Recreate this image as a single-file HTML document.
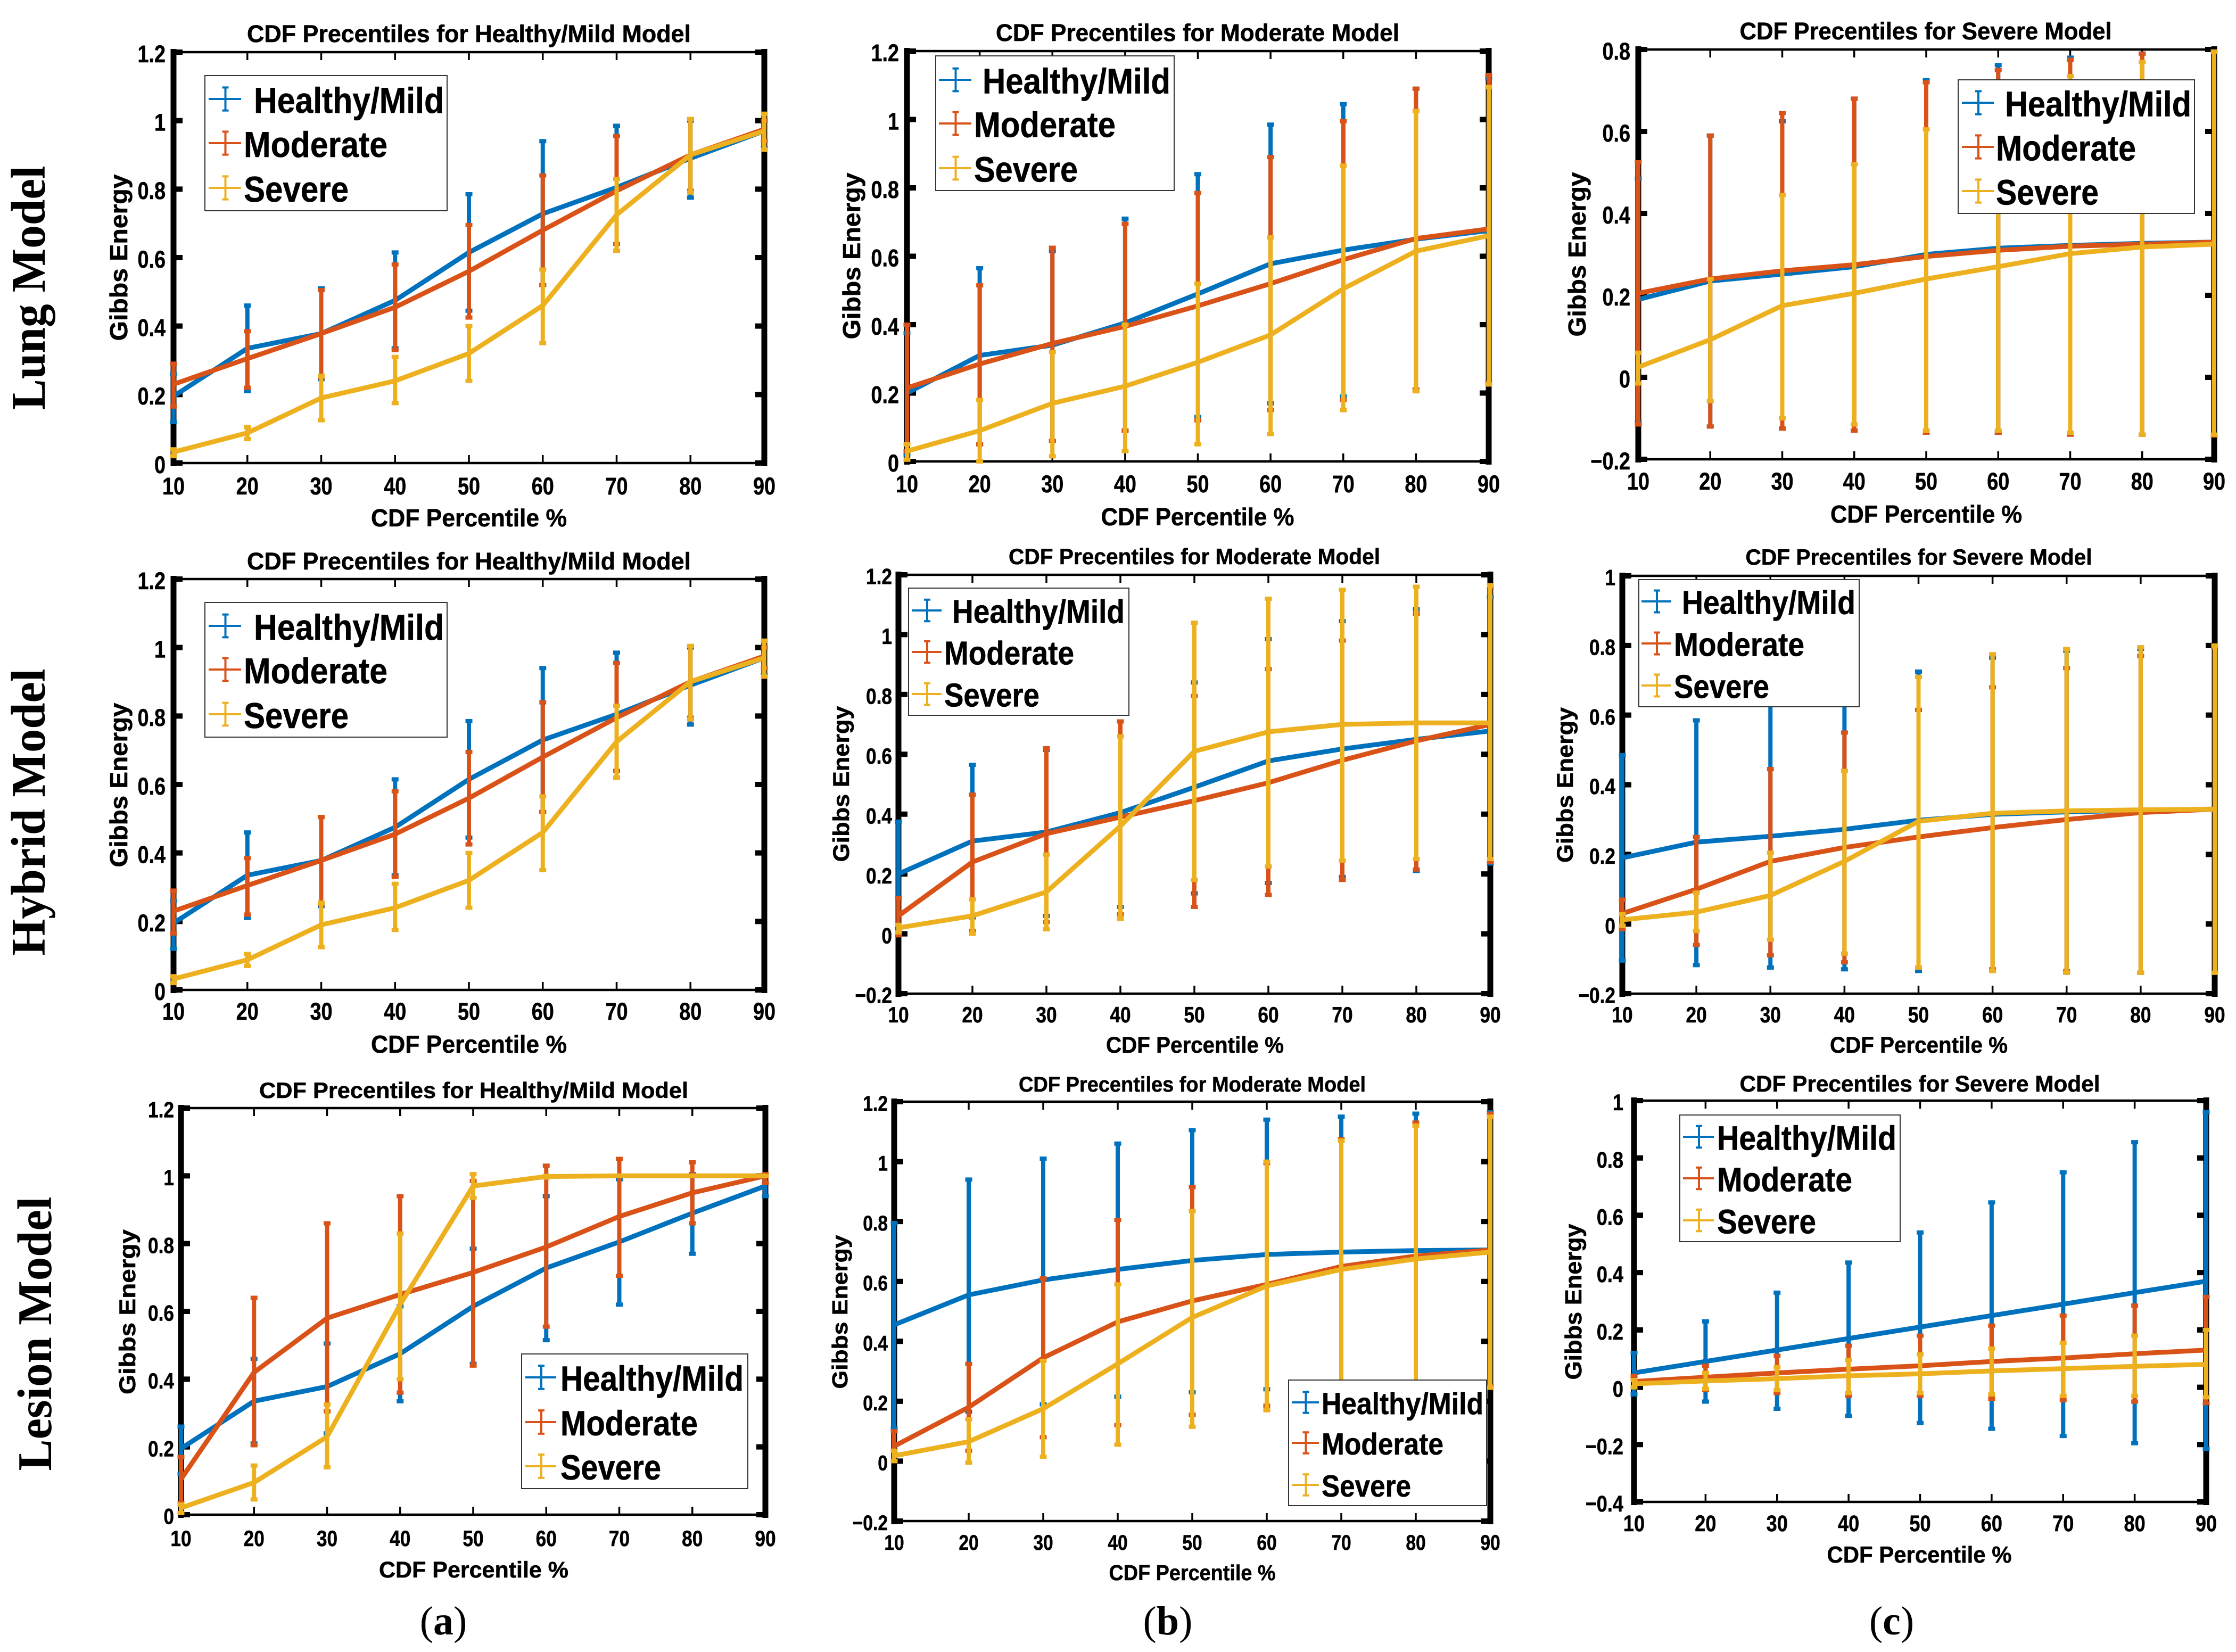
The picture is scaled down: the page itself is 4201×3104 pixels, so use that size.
<!DOCTYPE html>
<html lang="en">
<head>
<meta charset="utf-8">
<title>CDF Percentiles for Lung, Hybrid and Lesion Models</title>
<style>
  html,body{margin:0;padding:0;background:#fff;}
  svg{display:block;}
  text{font-family:"Liberation Sans",sans-serif;font-weight:700;fill:#000;stroke:#000;stroke-width:0.6px;}
  .serif{font-family:"Liberation Serif",serif;stroke-width:0;}
</style>
</head>
<body>
<svg id="chart" xmlns="http://www.w3.org/2000/svg" width="4201" height="3104" viewBox="0 0 4201 3104">
  <rect x="0" y="0" width="4201" height="3104" fill="#fff"/>
  <text class="serif" transform="translate(84,541) rotate(-90)" text-anchor="middle" font-size="91" textLength="459" lengthAdjust="spacingAndGlyphs">Lung Model</text>
  <text class="serif" transform="translate(84,1526) rotate(-90)" text-anchor="middle" font-size="91" textLength="539" lengthAdjust="spacingAndGlyphs">Hybrid Model</text>
  <text class="serif" transform="translate(96,2506) rotate(-90)" text-anchor="middle" font-size="91" textLength="515" lengthAdjust="spacingAndGlyphs">Lesion Model</text>
  <text class="serif" x="833" y="3071" text-anchor="middle" font-size="76" font-weight="400" style="font-weight:400">(<tspan style="font-weight:700">a</tspan>)</text>
  <text class="serif" x="2194" y="3071" text-anchor="middle" font-size="76" style="font-weight:400">(<tspan style="font-weight:700">b</tspan>)</text>
  <text class="serif" x="3554" y="3071" text-anchor="middle" font-size="76" style="font-weight:400">(<tspan style="font-weight:700">c</tspan>)</text>
</svg>
<script>
// ---------- shared categories and axis ticks ----------
const categories = [10,20,30,40,50,60,70,80,90];
const ticks0to12 = [0,0.2,0.4,0.6,0.8,1,1.2];
const ticksN2to08 = [-0.2,0,0.2,0.4,0.6,0.8];
const ticksN2to12 = [-0.2,0,0.2,0.4,0.6,0.8,1,1.2];
const ticksN2to1 = [-0.2,0,0.2,0.4,0.6,0.8,1];
const ticksN4to1 = [-0.4,-0.2,0,0.2,0.4,0.6,0.8,1];

// ---------- Lung model / Healthy-Mild ----------
const lungA_healthyMean = [0.195,0.335,0.378,0.475,0.615,0.728,0.805,0.89,0.97];
const lungA_healthyUpper = [0.26,0.46,0.51,0.615,0.785,0.94,0.985,1.0,1.02];
const lungA_healthyLower = [0.12,0.21,0.245,0.335,0.445,0.52,0.62,0.775,0.92];
const lungA_moderateMean = [0.23,0.305,0.378,0.455,0.56,0.68,0.795,0.9,0.975];
const lungA_moderateUpper = [0.29,0.385,0.505,0.58,0.695,0.84,0.955,1.005,1.0];
const lungA_moderateLower = [0.165,0.22,0.25,0.33,0.425,0.52,0.64,0.795,0.94];
const lungA_severeMean = [0.032,0.088,0.19,0.24,0.32,0.46,0.725,0.9,0.97];
const lungA_severeUpper = [0.04,0.105,0.255,0.31,0.40,0.565,0.83,1.005,1.02];
const lungA_severeLower = [0.02,0.07,0.125,0.175,0.24,0.35,0.62,0.79,0.915];

// ---------- Lung model / Moderate ----------
const lungB_healthyMean = [0.2,0.31,0.34,0.405,0.49,0.578,0.618,0.65,0.675];
const lungB_healthyUpper = [0.375,0.565,0.615,0.71,0.84,0.985,1.045,1.09,1.12];
const lungB_healthyLower = [0.02,0.05,0.06,0.09,0.13,0.17,0.19,0.21,0.23];
const lungB_moderateMean = [0.215,0.285,0.345,0.395,0.455,0.52,0.59,0.652,0.68];
const lungB_moderateUpper = [0.4,0.515,0.625,0.695,0.785,0.89,0.995,1.09,1.13];
const lungB_moderateLower = [0.03,0.05,0.06,0.09,0.12,0.15,0.18,0.21,0.23];
const lungB_severeMean = [0.03,0.09,0.17,0.22,0.29,0.37,0.505,0.615,0.66];
const lungB_severeUpper = [0.05,0.18,0.32,0.4,0.52,0.655,0.865,1.025,1.095];
const lungB_severeLower = [0.005,0.0,0.015,0.03,0.05,0.08,0.15,0.205,0.225];

// ---------- Lung model / Severe ----------
const lungC_healthyMean = [0.19,0.235,0.252,0.27,0.3,0.315,0.322,0.327,0.33];
const lungC_healthyUpper = [0.485,0.59,0.625,0.68,0.725,0.762,0.78,0.79,0.795];
const lungC_healthyLower = [-0.11,-0.12,-0.125,-0.13,-0.13,-0.135,-0.135,-0.14,-0.14];
const lungC_moderateMean = [0.205,0.24,0.26,0.275,0.295,0.31,0.32,0.325,0.33];
const lungC_moderateUpper = [0.525,0.59,0.645,0.68,0.72,0.75,0.775,0.79,0.795];
const lungC_moderateLower = [-0.115,-0.12,-0.125,-0.13,-0.135,-0.135,-0.14,-0.14,-0.142];
const lungC_severeMean = [0.025,0.092,0.175,0.205,0.24,0.27,0.302,0.318,0.325];
const lungC_severeUpper = [0.06,0.24,0.445,0.52,0.605,0.67,0.735,0.77,0.795];
const lungC_severeLower = [-0.015,-0.058,-0.1,-0.115,-0.13,-0.13,-0.135,-0.14,-0.14];

// ---------- Hybrid model / Healthy-Mild ----------
const hybridA_healthyMean = [0.195,0.335,0.378,0.475,0.615,0.73,0.805,0.89,0.97];
const hybridA_healthyUpper = [0.26,0.46,0.505,0.615,0.785,0.94,0.985,1.0,1.02];
const hybridA_healthyLower = [0.12,0.21,0.245,0.335,0.445,0.52,0.62,0.775,0.92];
const hybridA_moderateMean = [0.23,0.305,0.378,0.455,0.56,0.68,0.795,0.9,0.975];
const hybridA_moderateUpper = [0.29,0.385,0.505,0.58,0.695,0.84,0.955,1.005,1.0];
const hybridA_moderateLower = [0.165,0.22,0.25,0.33,0.425,0.52,0.64,0.795,0.94];
const hybridA_severeMean = [0.032,0.088,0.19,0.24,0.32,0.46,0.725,0.9,0.97];
const hybridA_severeUpper = [0.04,0.105,0.255,0.31,0.40,0.565,0.83,1.005,1.02];
const hybridA_severeLower = [0.02,0.07,0.125,0.175,0.24,0.35,0.62,0.79,0.915];

// ---------- Hybrid model / Moderate ----------
const hybridB_healthyMean = [0.2,0.31,0.34,0.405,0.49,0.578,0.618,0.65,0.678];
const hybridB_healthyUpper = [0.375,0.565,0.615,0.71,0.84,0.985,1.045,1.085,1.125];
const hybridB_healthyLower = [0.02,0.055,0.06,0.09,0.135,0.17,0.19,0.21,0.235];
const hybridB_moderateMean = [0.06,0.24,0.335,0.39,0.445,0.505,0.58,0.645,0.70];
const hybridB_moderateUpper = [0.12,0.465,0.62,0.71,0.795,0.885,0.98,1.07,1.16];
const hybridB_moderateLower = [-0.005,0.01,0.04,0.065,0.09,0.13,0.18,0.215,0.24];
const hybridB_severeMean = [0.02,0.06,0.14,0.36,0.61,0.675,0.70,0.705,0.705];
const hybridB_severeUpper = [0.03,0.115,0.265,0.66,1.04,1.12,1.15,1.16,1.165];
const hybridB_severeLower = [0.005,0.0,0.015,0.05,0.18,0.225,0.245,0.25,0.25];

// ---------- Hybrid model / Severe ----------
const hybridC_healthyMean = [0.19,0.235,0.252,0.272,0.298,0.315,0.322,0.327,0.33];
const hybridC_healthyUpper = [0.485,0.585,0.63,0.68,0.725,0.765,0.785,0.79,0.795];
const hybridC_healthyLower = [-0.105,-0.118,-0.125,-0.13,-0.135,-0.135,-0.14,-0.14,-0.14];
const hybridC_moderateMean = [0.03,0.1,0.18,0.22,0.25,0.277,0.3,0.32,0.33];
const hybridC_moderateUpper = [0.07,0.25,0.445,0.55,0.615,0.68,0.735,0.77,0.795];
const hybridC_moderateLower = [-0.015,-0.06,-0.09,-0.11,-0.125,-0.13,-0.135,-0.14,-0.14];
const hybridC_severeMean = [0.012,0.034,0.082,0.18,0.295,0.318,0.325,0.328,0.33];
const hybridC_severeUpper = [0.028,0.09,0.205,0.44,0.71,0.775,0.79,0.795,0.8];
const hybridC_severeLower = [-0.005,-0.02,-0.045,-0.085,-0.125,-0.135,-0.14,-0.14,-0.14];

// ---------- Lesion model / Healthy-Mild ----------
const lesionA_healthyMean = [0.195,0.335,0.378,0.475,0.615,0.728,0.805,0.89,0.97];
const lesionA_healthyUpper = [0.26,0.46,0.505,0.615,0.785,0.94,0.99,1.005,1.0];
const lesionA_healthyLower = [0.12,0.21,0.24,0.335,0.445,0.515,0.62,0.77,0.94];
const lesionA_moderateMean = [0.105,0.42,0.58,0.65,0.715,0.79,0.88,0.95,1.0];
const lesionA_moderateUpper = [0.17,0.64,0.86,0.94,0.985,1.03,1.05,1.04,1.005];
const lesionA_moderateLower = [0.035,0.205,0.305,0.36,0.44,0.555,0.705,0.86,0.98];
const lesionA_severeMean = [0.02,0.095,0.23,0.62,0.97,0.998,1.0,1.0,1.0];
const lesionA_severeUpper = [0.03,0.145,0.325,0.83,1.005,1.0,1.0,1.0,1.0];
const lesionA_severeLower = [0.005,0.045,0.14,0.40,0.935,0.995,1.0,1.0,1.0];

// ---------- Lesion model / Moderate ----------
const lesionB_healthyMean = [0.455,0.555,0.605,0.64,0.67,0.69,0.698,0.703,0.705];
const lesionB_healthyUpper = [0.795,0.94,1.01,1.06,1.105,1.14,1.15,1.16,1.165];
const lesionB_healthyLower = [0.11,0.165,0.19,0.215,0.23,0.24,0.25,0.25,0.25];
const lesionB_moderateMean = [0.05,0.18,0.345,0.465,0.535,0.59,0.65,0.685,0.705];
const lesionB_moderateUpper = [0.1,0.325,0.61,0.805,0.915,0.995,1.075,1.13,1.16];
const lesionB_moderateLower = [0.0,0.035,0.08,0.12,0.155,0.185,0.22,0.24,0.25];
const lesionB_severeMean = [0.018,0.065,0.175,0.325,0.48,0.585,0.64,0.675,0.698];
const lesionB_severeUpper = [0.035,0.14,0.335,0.59,0.835,1.0,1.07,1.12,1.15];
const lesionB_severeLower = [0.0,-0.005,0.015,0.055,0.115,0.17,0.21,0.235,0.245];

// ---------- Lesion model / Severe ----------
const lesionC_healthyMean = [0.05,0.09,0.13,0.17,0.21,0.25,0.29,0.33,0.37];
const lesionC_healthyUpper = [0.12,0.23,0.33,0.435,0.54,0.645,0.75,0.855,0.96];
const lesionC_healthyLower = [-0.025,-0.05,-0.075,-0.1,-0.125,-0.145,-0.17,-0.195,-0.215];
const lesionC_moderateMean = [0.02,0.035,0.05,0.063,0.075,0.09,0.102,0.117,0.13];
const lesionC_moderateUpper = [0.04,0.075,0.11,0.145,0.18,0.215,0.25,0.285,0.315];
const lesionC_moderateLower = [0.0,-0.01,-0.02,-0.03,-0.03,-0.04,-0.045,-0.05,-0.055];
const lesionC_severeMean = [0.012,0.022,0.03,0.04,0.047,0.057,0.065,0.073,0.08];
const lesionC_severeUpper = [0.025,0.05,0.07,0.095,0.115,0.135,0.155,0.18,0.2];
const lesionC_severeLower = [0.0,-0.005,-0.01,-0.02,-0.02,-0.025,-0.03,-0.03,-0.035];

// ---------- layout (pixels, not data) ----------
const COLORS = {healthy:'#0072BD', moderate:'#D95319', severe:'#EDB120'};
const LEGEND_NAMES = {healthy:'Healthy/Mild', moderate:'Moderate', severe:'Severe'};
const layouts = [
 {id:'lung-healthy', title:'CDF Precentiles for Healthy/Mild Model', L:326,R:1436,T:98,B:870, ticks:ticks0to12, fs:45, yGap:15, xBase:59,
  tc:881,tb:79,tw:834, xc:881,xb:989,xw:368, yx:239,yc:484,yw:313,
  lg:[385,142,840,396], rows:[186,269,353], sym:[392,453], tx:[477,458,458], tw3:[357,270,197],
  s:[lungA_healthyMean,lungA_healthyUpper,lungA_healthyLower,lungA_moderateMean,lungA_moderateUpper,lungA_moderateLower,lungA_severeMean,lungA_severeUpper,lungA_severeLower]},
 {id:'lung-moderate', title:'CDF Precentiles for Moderate Model', L:1704,R:2797,T:96,B:867, ticks:ticks0to12, fs:45, yGap:15, xBase:58,
  tc:2250,tb:77,tw:758, xc:2250,xb:987,xw:363, yx:1616,yc:481,yw:313,
  lg:[1758,105,2206,358], rows:[150,232,316], sym:[1764,1825], tx:[1846,1830,1830], tw3:[353,266,195],
  s:[lungB_healthyMean,lungB_healthyUpper,lungB_healthyLower,lungB_moderateMean,lungB_moderateUpper,lungB_moderateLower,lungB_severeMean,lungB_severeUpper,lungB_severeLower]},
 {id:'lung-severe', title:'CDF Precentiles for Severe Model', L:3078,R:4160,T:93,B:863, ticks:ticksN2to08, fs:45, yGap:15, xBase:57,
  tc:3618,tb:74,tw:699, xc:3619,xb:982,xw:360, yx:2979,yc:478,yw:309,
  lg:[3679,150,4123,401], rows:[193,276,359], sym:[3686,3746], tx:[3767,3750,3750], tw3:[350,263,193],
  s:[lungC_healthyMean,lungC_healthyUpper,lungC_healthyLower,lungC_moderateMean,lungC_moderateUpper,lungC_moderateLower,lungC_severeMean,lungC_severeUpper,lungC_severeLower]},
 {id:'hybrid-healthy', title:'CDF Precentiles for Healthy/Mild Model', L:326,R:1436,T:1088,B:1860, ticks:ticks0to12, fs:45, yGap:15, xBase:56,
  tc:881,tb:1070,tw:834, xc:881,xb:1978,xw:368, yx:239,yc:1475,yw:309,
  lg:[385,1132,840,1385], rows:[1176,1258,1342], sym:[392,453], tx:[477,458,458], tw3:[357,270,197],
  s:[hybridA_healthyMean,hybridA_healthyUpper,hybridA_healthyLower,hybridA_moderateMean,hybridA_moderateUpper,hybridA_moderateLower,hybridA_severeMean,hybridA_severeUpper,hybridA_severeLower]},
 {id:'hybrid-moderate', title:'CDF Precentiles for Moderate Model', L:1688,R:2800,T:1080,B:1867, ticks:ticksN2to12, fs:42, yGap:12, xBase:54,
  tc:2244,tb:1060,tw:698, xc:2245,xb:1978,xw:334, yx:1595,yc:1473,yw:293,
  lg:[1707,1105,2121,1344], rows:[1147,1225,1304], sym:[1713,1769], tx:[1789,1774,1774], tw3:[324,244,179],
  s:[hybridB_healthyMean,hybridB_healthyUpper,hybridB_healthyLower,hybridB_moderateMean,hybridB_moderateUpper,hybridB_moderateLower,hybridB_severeMean,hybridB_severeUpper,hybridB_severeLower]},
 {id:'hybrid-severe', title:'CDF Precentiles for Severe Model', L:3048,R:4161,T:1082,B:1867, ticks:ticksN2to1, fs:42, yGap:13, xBase:54,
  tc:3605,tb:1061,tw:651, xc:3605,xb:1978,xw:334, yx:2955,yc:1475,yw:292,
  lg:[3079,1089,3493,1328], rows:[1130,1209,1288], sym:[3084,3140], tx:[3160,3145,3145], tw3:[326,245,179],
  s:[hybridC_healthyMean,hybridC_healthyUpper,hybridC_healthyLower,hybridC_moderateMean,hybridC_moderateUpper,hybridC_moderateLower,hybridC_severeMean,hybridC_severeUpper,hybridC_severeLower]},
 {id:'lesion-healthy', title:'CDF Precentiles for Healthy/Mild Model', L:340,R:1438,T:2082,B:2846, ticks:ticks0to12, fs:42, yGap:13, xBase:59,
  tc:890,tb:2063,tw:806, xc:890,xb:2964,xw:356, yx:254,yc:2465,yw:310,
  lg:[980,2544,1405,2797], rows:[2588,2672,2755], sym:[987,1045], tx:[1053,1053,1053], tw3:[344,258,189],
  s:[lesionA_healthyMean,lesionA_healthyUpper,lesionA_healthyLower,lesionA_moderateMean,lesionA_moderateUpper,lesionA_moderateLower,lesionA_severeMean,lesionA_severeUpper,lesionA_severeLower]},
 {id:'lesion-moderate', title:'CDF Precentiles for Moderate Model', L:1680,R:2800,T:2070,B:2858, ticks:ticksN2to12, fs:40, yGap:12, xBase:54,
  tc:2240,tb:2051,tw:652, xc:2240,xb:2969,xw:313, yx:1592,yc:2465,yw:289,
  lg:[2421,2593,2793,2829], rows:[2635,2711,2790], sym:[2427,2478], tx:[2483,2483,2483], tw3:[304,229,168],
  s:[lesionB_healthyMean,lesionB_healthyUpper,lesionB_healthyLower,lesionB_moderateMean,lesionB_moderateUpper,lesionB_moderateLower,lesionB_severeMean,lesionB_severeUpper,lesionB_severeLower]},
 {id:'lesion-severe', title:'CDF Precentiles for Severe Model', L:3070,R:4145,T:2068,B:2822, ticks:ticksN4to1, fs:43, yGap:20, xBase:55,
  tc:3607,tb:2051,tw:677, xc:3606,xb:2936,xw:347, yx:2971,yc:2446,yw:293,
  lg:[3156,2095,3570,2333], rows:[2136,2214,2293], sym:[3162,3220], tx:[3226,3226,3226], tw3:[337,254,186],
  s:[lesionC_healthyMean,lesionC_healthyUpper,lesionC_healthyLower,lesionC_moderateMean,lesionC_moderateUpper,lesionC_moderateLower,lesionC_severeMean,lesionC_severeUpper,lesionC_severeLower]}
];

// ---------- rendering ----------
const svg = document.getElementById('chart');
const NS = svg.namespaceURI;
function mk(parent, tag, attrs){
  const el = document.createElementNS(NS, tag);
  for (const k in attrs) el.setAttribute(k, attrs[k]);
  parent.appendChild(el);
  return el;
}
function fmtTick(v){ return String(v).replace('-', '\u2212'); }

layouts.forEach(function(p){
  const g = mk(svg, 'g', {});
  
  

  const xMin = categories[0], xMax = categories[categories.length-1];
  const yMin = p.ticks[0], yMax = p.ticks[p.ticks.length-1];
  const xScale = function(v){ return p.L + (v-xMin)/(xMax-xMin)*(p.R-p.L); };
  const yScale = function(v){ return p.B - (v-yMin)/(yMax-yMin)*(p.B-p.T); };

  // axes box
  const box = mk(g, 'path', {d:'M'+(p.L-5.5)+' '+p.T+'H'+(p.R+5.5)+'M'+(p.L-5.5)+' '+p.B+'H'+(p.R+5.5), stroke:'#000','stroke-width':4.5, fill:'none'});
  
  
  const leftAxis = mk(g, 'line', {x1:p.L,x2:p.L,y1:p.T-6,y2:p.B+6,stroke:'#000','stroke-width':11});
  
  
  const rightAxis = mk(g, 'line', {x1:p.R,x2:p.R,y1:p.T-6,y2:p.B+6,stroke:'#000','stroke-width':11});
  
  

  // y ticks and labels
  p.ticks.forEach(function(v){
    const yy = yScale(v);
    const tk = mk(g, 'path', {d:'M'+p.L+' '+yy+'H'+(p.L+17)+'M'+p.R+' '+yy+'H'+(p.R-17), stroke:'#000','stroke-width':10, fill:'none'});
    
    
    const t = mk(g, 'text', {transform:'translate('+(p.L-p.yGap)+','+(yy+p.fs*0.35+3)+') scale(0.84,1)','text-anchor':'end','font-size':p.fs});
    t.textContent = fmtTick(v);
    
    
  });

  // x ticks and labels
  categories.forEach(function(c){
    const xx = xScale(c);
    const tk = mk(g, 'path', {d:'M'+xx+' '+p.T+'V'+(p.T+15)+'M'+xx+' '+p.B+'V'+(p.B-15), stroke:'#000','stroke-width':3.5, fill:'none'});
    
    
    const t = mk(g, 'text', {transform:'translate('+xx+','+(p.B+p.xBase)+') scale(0.84,1)','text-anchor':'middle','font-size':p.fs});
    t.textContent = String(c);
    
    
  });

  // titles
  const title = mk(g, 'text', {x:p.tc,y:p.tb,'text-anchor':'middle','font-size':p.fs,textLength:p.tw,lengthAdjust:'spacingAndGlyphs'});
  title.textContent = p.title;
  
  
  const xTitle = mk(g, 'text', {x:p.xc,y:p.xb,'text-anchor':'middle','font-size':p.fs+1,textLength:p.xw,lengthAdjust:'spacingAndGlyphs'});
  xTitle.textContent = 'CDF Percentile %';
  
  
  const yTitle = mk(g, 'text', {transform:'translate('+p.yx+','+p.yc+') rotate(-90)','text-anchor':'middle','font-size':p.fs+1,textLength:p.yw,lengthAdjust:'spacingAndGlyphs'});
  yTitle.textContent = 'Gibbs Energy';
  
  

  // series: error bars then mean line, in draw order
  ['healthy','moderate','severe'].forEach(function(key, si){
    const mean = p.s[si*3], upper = p.s[si*3+1], lower = p.s[si*3+2];
    const color = COLORS[key];
    const sg = mk(g, 'g', {});
    
    
    categories.forEach(function(c, i){
      const xx = xScale(c), yu = yScale(upper[i]), yl = yScale(lower[i]);
      const eb = mk(sg, 'path', {d:'M'+xx+' '+yu+'V'+yl, stroke:color,'stroke-width':8, fill:'none'});
      
      
      const caps = mk(sg, 'path', {d:'M'+(xx-6.5)+' '+yu+'H'+(xx+6.5)+'M'+(xx-6.5)+' '+yl+'H'+(xx+6.5), stroke:color,'stroke-width':8, fill:'none'});
      
      
    });
    const pts = categories.map(function(c, i){ return xScale(c).toFixed(1)+','+yScale(mean[i]).toFixed(1); }).join(' ');
    const line = mk(sg, 'polyline', {points:pts, fill:'none', stroke:color,'stroke-width':9,'stroke-linejoin':'round'});
    
    
  });

  // legend
  const lgGroup = mk(g, 'g', {});
  
  
  const lgBox = mk(lgGroup, 'rect', {x:p.lg[0],y:p.lg[1],width:p.lg[2]-p.lg[0],height:p.lg[3]-p.lg[1],fill:'#fff',stroke:'#333','stroke-width':2});
  
  
  const lgFont = 68 * p.tw3[0] / 357;
  const half = (p.rows[1]-p.rows[0]) * 0.26;
  const symC = (p.sym[0]+p.sym[1])/2 + 1;
  ['healthy','moderate','severe'].forEach(function(key, i){
    const ry = p.rows[i], color = COLORS[key];
    const sym = mk(lgGroup, 'path', {d:'M'+p.sym[0]+' '+ry+'H'+p.sym[1]+'M'+symC+' '+(ry-half)+'V'+(ry+half)+'M'+(symC-6)+' '+(ry-half)+'H'+(symC+6)+'M'+(symC-6)+' '+(ry+half)+'H'+(symC+6), stroke:color,'stroke-width':4, fill:'none'});
    
    
    const txt = mk(lgGroup, 'text', {x:p.tx[i],y:ry+lgFont*0.38,'font-size':lgFont,textLength:p.tw3[i],lengthAdjust:'spacingAndGlyphs'});
    txt.textContent = LEGEND_NAMES[key];
    
    
  });
});
</script>
</body>
</html>
